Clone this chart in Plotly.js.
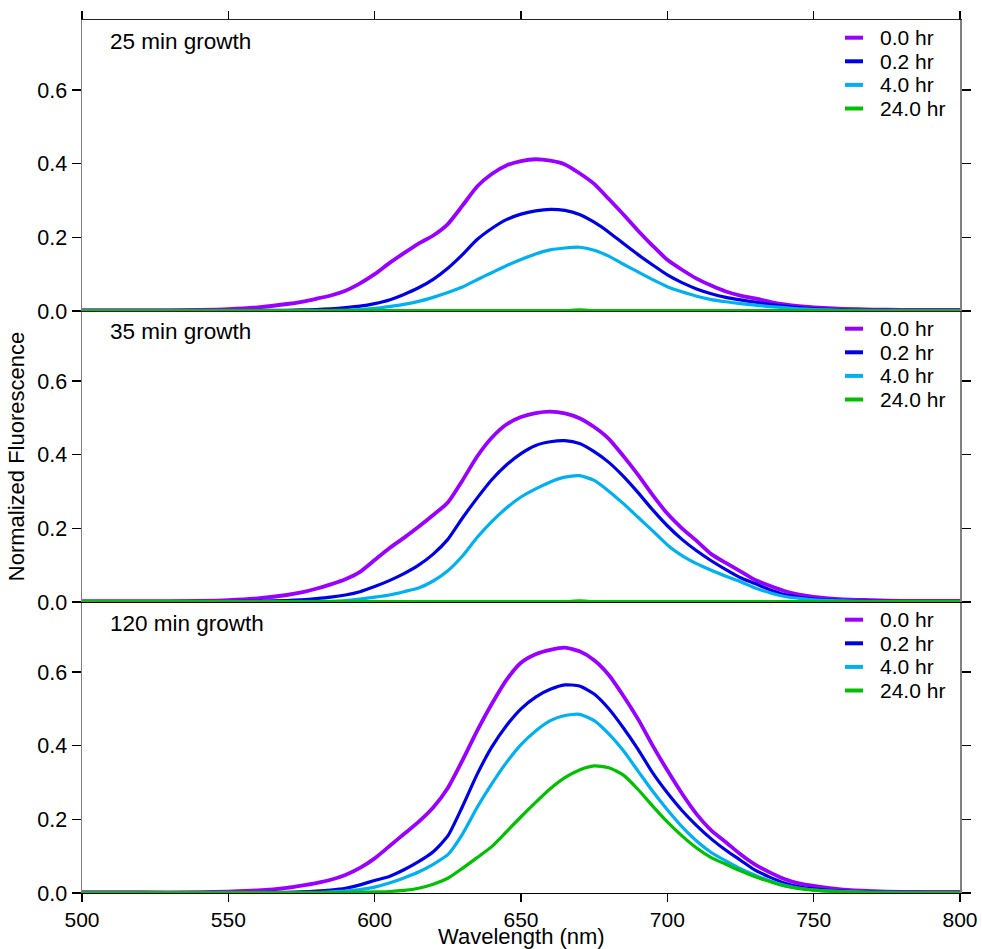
<!DOCTYPE html>
<html>
<head>
<meta charset="utf-8">
<script src="https://cdn.plot.ly/plotly-3.0.1.min.js"></script>
<style>html,body{margin:0;padding:0;background:#fff;}#chart{width:982px;height:949px;}</style>
</head>
<body>
<div id="chart"></div>
<script>
// ---------------- data ----------------
const wavelength = [500,520,540,550,560,570,575,580,585,590,595,600,605,610,615,620,625,630,635,640,645,650,655,660,665,670,675,680,685,690,695,700,705,710,715,720,725,730,735,740,745,750,760,770,780,790,800];

const seriesNames = ['0.0 hr','0.2 hr','4.0 hr','24.0 hr'];
const seriesColors = ['#9a00ff','#0000e6','#00b0f0','#00c000'];
const panelLabels = ['25 min growth','35 min growth','120 min growth'];
const xTitle = 'Wavelength (nm)';
const yTitle = 'Normalized Fluorescence';
const xTickVals = [500,550,600,650,700,750,800];
const yTickVals = [0,0.2,0.4,0.6];

// 25 min growth
const g25_h00 = [0.002,0.002,0.003,0.005,0.010,0.019,0.025,0.033,0.042,0.055,0.075,0.100,0.130,0.157,0.183,0.205,0.236,0.286,0.338,0.372,0.395,0.407,0.412,0.408,0.398,0.374,0.345,0.304,0.262,0.218,0.177,0.139,0.112,0.088,0.069,0.053,0.042,0.034,0.025,0.018,0.013,0.010,0.006,0.004,0.003,0.003,0.003];
const g25_h02 = [0.001,0.001,0.001,0.001,0.001,0.002,0.003,0.004,0.006,0.009,0.013,0.020,0.030,0.045,0.063,0.086,0.116,0.153,0.194,0.224,0.248,0.263,0.272,0.276,0.273,0.262,0.241,0.214,0.183,0.153,0.125,0.098,0.077,0.060,0.047,0.037,0.030,0.024,0.018,0.013,0.009,0.006,0.003,0.002,0.001,0.001,0.001];
const g25_h40 = [0.001,0.001,0.001,0.001,0.001,0.001,0.001,0.001,0.001,0.002,0.004,0.007,0.012,0.018,0.026,0.037,0.050,0.065,0.085,0.104,0.123,0.140,0.155,0.166,0.171,0.173,0.165,0.149,0.127,0.106,0.085,0.066,0.052,0.040,0.031,0.025,0.020,0.016,0.012,0.009,0.006,0.004,0.002,0.001,0.001,0.001,0.001];
const g25_h240 = [0.001,0.001,0.001,0.001,0.001,0.001,0.001,0.001,0.001,0.001,0.001,0.001,0.001,0.001,0.001,0.001,0.001,0.001,0.001,0.001,0.001,0.001,0.001,0.001,0.001,0.003,0.001,0.001,0.001,0.001,0.001,0.001,0.001,0.001,0.001,0.001,0.001,0.001,0.001,0.001,0.001,0.001,0.001,0.001,0.001,0.001,0.001];

// 35 min growth
const g35_h00 = [0.002,0.002,0.003,0.005,0.010,0.019,0.026,0.036,0.048,0.062,0.082,0.114,0.146,0.174,0.204,0.236,0.270,0.330,0.395,0.446,0.482,0.502,0.513,0.517,0.512,0.499,0.475,0.443,0.396,0.345,0.290,0.240,0.200,0.166,0.130,0.106,0.083,0.060,0.044,0.030,0.020,0.014,0.007,0.005,0.003,0.003,0.003];
const g35_h02 = [0.001,0.001,0.001,0.001,0.002,0.004,0.006,0.009,0.013,0.019,0.028,0.042,0.058,0.077,0.100,0.130,0.170,0.228,0.282,0.332,0.372,0.403,0.425,0.435,0.438,0.430,0.408,0.379,0.341,0.297,0.250,0.207,0.170,0.139,0.112,0.088,0.066,0.050,0.033,0.020,0.013,0.008,0.004,0.002,0.001,0.001,0.001];
const g35_h40 = [0.001,0.001,0.001,0.001,0.001,0.001,0.001,0.001,0.002,0.004,0.008,0.013,0.019,0.028,0.038,0.057,0.085,0.125,0.175,0.218,0.255,0.285,0.307,0.326,0.339,0.343,0.330,0.301,0.267,0.230,0.193,0.155,0.126,0.104,0.086,0.070,0.055,0.038,0.025,0.015,0.010,0.006,0.003,0.001,0.001,0.001,0.001];
const g35_h240 = [0.001,0.001,0.001,0.001,0.001,0.001,0.001,0.001,0.001,0.001,0.001,0.001,0.001,0.001,0.001,0.001,0.001,0.001,0.001,0.001,0.001,0.001,0.001,0.001,0.001,0.003,0.001,0.001,0.001,0.001,0.001,0.001,0.001,0.001,0.001,0.001,0.001,0.001,0.001,0.001,0.001,0.001,0.001,0.001,0.001,0.001,0.001];

// 120 min growth
const g120_h00 = [0.002,0.002,0.002,0.004,0.007,0.014,0.020,0.027,0.036,0.049,0.068,0.094,0.127,0.160,0.193,0.232,0.285,0.360,0.440,0.513,0.578,0.625,0.648,0.660,0.666,0.656,0.632,0.592,0.535,0.472,0.400,0.333,0.270,0.214,0.170,0.138,0.105,0.077,0.056,0.038,0.026,0.019,0.009,0.005,0.003,0.003,0.003];
const g120_h02 = [0.001,0.001,0.001,0.001,0.001,0.002,0.003,0.005,0.008,0.013,0.022,0.034,0.045,0.063,0.085,0.112,0.155,0.235,0.322,0.396,0.454,0.500,0.532,0.553,0.565,0.562,0.540,0.500,0.448,0.390,0.326,0.272,0.224,0.183,0.147,0.116,0.089,0.062,0.043,0.027,0.017,0.011,0.005,0.003,0.002,0.001,0.001];
const g120_h40 = [0.001,0.001,0.001,0.001,0.001,0.001,0.001,0.001,0.003,0.005,0.009,0.016,0.027,0.041,0.057,0.078,0.104,0.160,0.232,0.296,0.354,0.403,0.440,0.468,0.482,0.485,0.468,0.432,0.386,0.331,0.276,0.226,0.180,0.141,0.110,0.087,0.066,0.048,0.033,0.021,0.013,0.008,0.004,0.002,0.001,0.001,0.001];
const g120_h240 = [0.001,0.001,0.001,0.001,0.001,0.001,0.001,0.001,0.001,0.001,0.002,0.003,0.004,0.007,0.013,0.024,0.040,0.067,0.096,0.126,0.166,0.207,0.246,0.283,0.313,0.334,0.345,0.340,0.320,0.281,0.236,0.193,0.155,0.122,0.096,0.078,0.060,0.044,0.031,0.019,0.012,0.008,0.003,0.001,0.001,0.001,0.001];

const panels = [
  [g25_h00, g25_h02, g25_h40, g25_h240],
  [g35_h00, g35_h02, g35_h40, g35_h240],
  [g120_h00, g120_h02, g120_h40, g120_h240]
];

// ---------------- build ----------------
const FONT = 'Arial, "Liberation Sans", "DejaVu Sans", sans-serif';
const W = 982, H = 949;
const M = {l: 82, r: 22, t: 20, b: 56};
const plotW = W - M.l - M.r, plotH = H - M.t - M.b;
const panelH = plotH / 3;

// panel i -> axes
const xAxisIds = ['x3','x2','x'];
const yAxisIds = ['y','y2','y3'];

const traces = [];
panels.forEach((series, p) => {
  series.forEach((vals, s) => {
    traces.push({
      type: 'scatter', mode: 'lines',
      x: wavelength, y: vals,
      name: seriesNames[s],
      xaxis: xAxisIds[p], yaxis: yAxisIds[p],
      line: {color: seriesColors[s], width: s === 0 ? 3.8 : 3.2, shape: 'spline', smoothing: 0.6},
      showlegend: false, hoverinfo: 'skip'
    });
  });
});

function pxToPaperX(px){ return (px - M.l) / plotW; }
function pxToPaperY(py){ return (H - M.b - py) / plotH; }

const LEG_FONT = 21, LEG_STEP = 23.6, LEG_FIRST = 17.7;
const annotations = [];
const shapes = [];
panelLabels.forEach((lbl, p) => {
  const top = M.t + panelH * p;
  annotations.push({
    text: lbl, xref: 'paper', yref: 'paper',
    x: pxToPaperX(108), y: pxToPaperY(top + 21), xanchor: 'left', yanchor: 'middle',
    showarrow: false, font: {family: FONT, size: 22.5, color: '#000'}
  });
  seriesNames.forEach((nm, s) => {
    const cy = top + LEG_FIRST + LEG_STEP * s;
    shapes.push({
      type: 'line', xref: 'paper', yref: 'paper',
      x0: pxToPaperX(845), x1: pxToPaperX(863), y0: pxToPaperY(cy), y1: pxToPaperY(cy),
      line: {color: seriesColors[s], width: 4}
    });
    annotations.push({
      text: nm, xref: 'paper', yref: 'paper',
      x: pxToPaperX(877.5), y: pxToPaperY(cy), xanchor: 'left', yanchor: 'middle',
      showarrow: false, font: {family: FONT, size: LEG_FONT, color: '#000'}
    });
  });
});
// x-axis title, placed at the bottom of the margin
annotations.push({
  text: xTitle, xref: 'paper', yref: 'paper',
  x: 0.5, y: pxToPaperY(H), xanchor: 'center', yanchor: 'bottom', borderpad: 0, yshift: -1,
  showarrow: false, font: {family: FONT, size: 22, color: '#000'}
});

const yBase = {
  range: [0, 0.79], tickvals: yTickVals, tickformat: '.1f',
  ticks: 'outside', ticklen: 9, tickwidth: 1.5, tickcolor: '#000',
  showline: true, linecolor: '#808080', linewidth: 1.5, mirror: 'ticks',
  showgrid: false, zeroline: false,
  tickfont: {family: FONT, size: 21.5, color: '#000'}, fixedrange: true
};

const layout = {
  width: W, height: H,
  margin: M,
  paper_bgcolor: '#fff', plot_bgcolor: '#fff',
  font: {family: FONT, size: 21.5, color: '#000'},
  showlegend: false,
  xaxis: {
    domain: [0,1], range: [500,800], anchor: 'y3', tickvals: xTickVals,
    ticks: 'outside', ticklen: 8, tickwidth: 1.5, tickcolor: '#000',
    showline: true, linecolor: '#000', linewidth: 1.2, mirror: true,
    showgrid: false, zeroline: false,
    tickfont: {family: FONT, size: 21, color: '#000'}
  },
  xaxis2: {
    domain: [0,1], range: [500,800], matches: 'x', anchor: 'y2',
    ticks: '', showticklabels: false,
    showline: true, linecolor: '#000', linewidth: 1.2, mirror: true,
    showgrid: false, zeroline: false
  },
  xaxis3: {
    domain: [0,1], range: [500,800], matches: 'x', anchor: 'y', side: 'top', tickvals: xTickVals,
    ticks: 'outside', ticklen: 8, tickwidth: 1.5, tickcolor: '#000', showticklabels: false,
    showline: true, linecolor: '#222', linewidth: 1.2, mirror: true,
    showgrid: false, zeroline: false
  },
  yaxis: Object.assign({}, yBase, {domain: [2/3, 1], anchor: 'x3'}),
  yaxis2: Object.assign({}, yBase, {domain: [1/3, 2/3], anchor: 'x2',
    title: {text: yTitle, font: {family: FONT, size: 22, color: '#000'}, standoff: 6}}),
  yaxis3: Object.assign({}, yBase, {domain: [0, 1/3], anchor: 'x'}),
  annotations: annotations,
  shapes: shapes
};

Plotly.newPlot('chart', traces, layout, {displayModeBar: false, staticPlot: true});
</script>
</body>
</html>
